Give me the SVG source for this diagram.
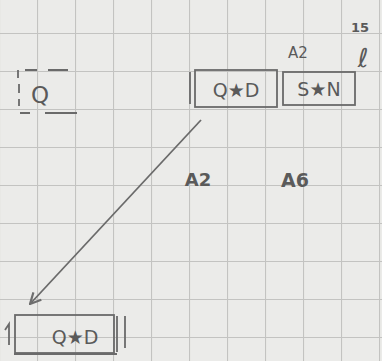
<svg xmlns="http://www.w3.org/2000/svg" width="382" height="361" viewBox="0 0 382 361">
<defs>
<pattern id="grid" patternUnits="userSpaceOnUse" x="-1" y="-5" width="38" height="38">
<path d="M0 0 V38 M0 0 H38" stroke="#c3c3c1" stroke-width="2.2" fill="none"/>
</pattern>
<marker id="arr" viewBox="0 0 12 12" refX="11" refY="6" markerWidth="13" markerHeight="13" markerUnits="userSpaceOnUse" orient="auto">
<path d="M1 1 L11 6 L1 11" fill="none" stroke="#6e6e6e" stroke-width="2"/>
</marker>
<style>
.ink{fill:none;stroke:#6a6a6a;stroke-width:1.8}
.t{font-family:"DejaVu Sans","Liberation Sans",sans-serif;fill:#5a5a5a}
.lbl{font-size:19px}
.sm{font-size:15px}
</style>
</defs>
<rect width="382" height="361" fill="#ebebe9"/>
<rect width="382" height="361" fill="url(#grid)"/>

<g id="node-q">
<path class="ink" d="M18 70 V78 M19 84 V93 M19 99 V106"/>
<path class="ink" d="M25 70 H37 M48 70 H68"/>
<path class="ink" d="M20 113 H30 M45 113 H77"/>
<text class="t" font-size="23" x="40" y="103" text-anchor="middle">Q</text>
</g>

<g id="node-qd-top">
<rect class="ink" x="195" y="70" width="82" height="37"/>
<path class="ink" d="M190 72 V104"/>
<text class="t lbl" x="236" y="97" text-anchor="middle">Q★D</text>
</g>

<g id="node-sn">
<rect class="ink" x="283" y="72" width="72" height="33"/>
<text class="t lbl" x="319" y="96" text-anchor="middle">S★N</text>
</g>

<g id="labels">
<text class="t sm" x="298" y="58" text-anchor="middle">A2</text>
<text class="t" font-size="26" x="363" y="67" text-anchor="middle" font-style="italic">ℓ</text>
<text class="t" font-size="13" x="360" y="32" text-anchor="middle" font-weight="bold">15</text>
<text class="t" font-size="18" x="198" y="186" text-anchor="middle" font-weight="bold">A2</text>
<text class="t" font-size="19" x="295" y="187" text-anchor="middle" font-weight="bold">A6</text>
</g>

<g id="node-qd-bottom">
<rect class="ink" x="15" y="315" width="99" height="38"/>
<path class="ink" d="M14 354 H117" stroke-width="2.5"/>
<path class="ink" d="M117 316 V352"/>
<path class="ink" d="M125 316 V348"/>
<path class="ink" d="M5 330 L9 324 V345"/>
<text class="t lbl" x="75" y="344" text-anchor="middle">Q★D</text>
</g>

<g id="connectors">
<path class="ink" d="M201 120 L30 304" marker-end="url(#arr)"/>
</g>
</svg>
